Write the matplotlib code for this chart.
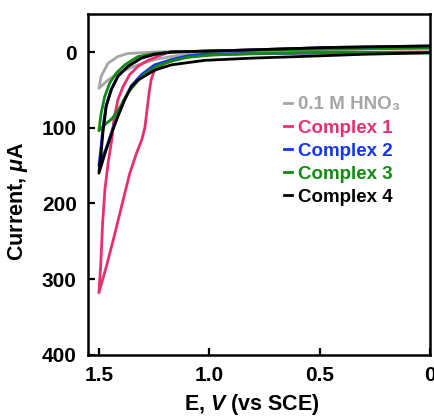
# Cyclic voltammograms, 0.1 M HNO3 and complexes 1-4

import numpy as np
import matplotlib.pyplot as plt

plt.rcParams['font.family'] = ['Liberation Sans', 'DejaVu Sans']
plt.rcParams['font.weight'] = 'bold'
plt.rcParams['mathtext.fontset'] = 'custom'
plt.rcParams['mathtext.rm'] = 'Liberation Sans:bold'
plt.rcParams['mathtext.bf'] = 'Liberation Sans:bold'
plt.rcParams['mathtext.it'] = 'Liberation Sans:bold:italic'

# each scan: branch a (steep side) from 0 V up to 1.5 V, branch b back to 0 V
hno3_Ea = [0, 0.5, 1.0, 1.25, 1.369, 1.414, 1.459, 1.49, 1.5]
hno3_Ia = [-6, -3, -1, 0, 2, 6, 15, 32, 48]
hno3_Eb = [1.5, 1.459, 1.399, 1.323, 1.248, 1.172, 1.097, 0.9, 0.5, 0]
hno3_Ib = [48, 37, 26, 17, 10, 6, 3, 1, 0, 0]

c1_Ea = [0, 0.45, 0.9, 1.18, 1.218, 1.278, 1.323, 1.361, 1.391, 1.414, 1.432,
         1.442, 1.458, 1.473, 1.483, 1.492, 1.5]
c1_Ia = [-7, -6, -2, 0, 4, 11, 19, 30, 46, 63, 89, 116, 146, 182, 225, 282, 318]
c1_Eb = [1.5, 1.465, 1.427, 1.39, 1.36, 1.329, 1.306, 1.292, 1.282, 1.272, 1.263,
         1.248, 1.202, 1.127, 1.037, 0.9, 0.7, 0.45, 0]
c1_Ib = [318, 282, 239, 195, 160, 133, 116, 100, 76, 52, 36, 24, 15, 8, 4, 3, 2, 1, 0]

c2_Ea = [0, 0.45, 0.9, 1.17, 1.248, 1.308, 1.369, 1.414, 1.444, 1.467, 1.482, 1.49, 1.5]
c2_Ia = [-8, -6, -2, 0, 3, 8, 19, 32, 49, 70, 100, 125, 150]
c2_Eb = [1.5, 1.467, 1.437, 1.414, 1.383, 1.354, 1.308, 1.248, 1.172, 1.097, 1.02,
         0.8, 0.5, 0]
c2_Ib = [150, 127, 101, 84, 62, 45, 30, 17, 10, 5, 3, 2, 1, 1]

c3_Ea = [0, 0.45, 0.9, 1.17, 1.248, 1.323, 1.383, 1.422, 1.451, 1.474, 1.49, 1.5]
c3_Ia = [-5, -4, -2, 0, 2, 6, 17, 28, 41, 59, 81, 104]
c3_Eb = [1.5, 1.474, 1.444, 1.422, 1.399, 1.369, 1.338, 1.308, 1.248, 1.172, 1.097,
         0.983, 0.8, 0.5, 0]
c3_Ib = [104, 96, 89, 81, 70, 54, 43, 33, 20, 12, 7, 4, 2, 1, 1]

c4_Ea = [0, 0.45, 0.9, 1.17, 1.248, 1.308, 1.369, 1.414, 1.444, 1.467, 1.482, 1.49, 1.5]
c4_Ia = [-8, -6, -2, 0, 3, 8, 19, 32, 50, 72, 107, 133, 160]
c4_Eb = [1.5, 1.467, 1.437, 1.414, 1.383, 1.354, 1.323, 1.248, 1.172, 1.097, 1.02,
         0.8, 0.59, 0.3, 0]
c4_Ib = [160, 129, 103, 85, 63, 46, 37, 24, 17, 14, 11, 8, 6, 3, 1]

names = ['0.1 M HNO\u2083', 'Complex 1', 'Complex 2', 'Complex 3', 'Complex 4']
colors = ['#a6a6a6', '#e8306c', '#1436f0', '#138a13', 'black']
scans = [(hno3_Ea, hno3_Ia, hno3_Eb, hno3_Ib),
         (c1_Ea, c1_Ia, c1_Eb, c1_Ib),
         (c2_Ea, c2_Ia, c2_Eb, c2_Ib),
         (c3_Ea, c3_Ia, c3_Eb, c3_Ib),
         (c4_Ea, c4_Ia, c4_Eb, c4_Ib)]

fig = plt.figure(figsize=(4.35, 4.16), dpi=100)
ax = fig.add_axes([0.202, 0.147, 0.787, 0.819])

for name, col, (Ea, Ia, Eb, Ib) in zip(names, colors, scans):
    E = np.concatenate([Ea, Eb])
    I = np.concatenate([Ia, Ib])
    ax.plot(E, I, color=col, lw=2.0, label=name, solid_joinstyle='round')

ax.set_xlim(1.55, 0)
ax.set_ylim(400, -50)
ax.set_xticks([1.5, 1.0, 0.5, 0])
ax.set_xticklabels(['1.5', '1.0', '0.5', '0'])
ax.set_yticks([0, 100, 200, 300, 400])
ax.tick_params(direction='in', length=5, width=1.6, labelsize=15, pad=8)
for s in ax.spines.values():
    s.set_linewidth(1.8)

ax.set_xlabel('E, $V$ (vs SCE)', fontsize=15.5, fontweight='bold')
ax.set_ylabel('Current, $\\mu$A', fontsize=15.5, fontweight='bold')
ax.xaxis.set_label_coords(0.48, -0.11)
ax.yaxis.set_label_coords(-0.168, 0.452)

leg = ax.legend(loc='center left', bbox_to_anchor=(0.545, 0.598), frameon=False,
                handlelength=0.45, handletextpad=0.3, labelspacing=0.32,
                borderpad=0, prop={'size': 13.5, 'weight': 'bold'},
                labelcolor='linecolor')

plt.savefig('out.png', dpi=100)
